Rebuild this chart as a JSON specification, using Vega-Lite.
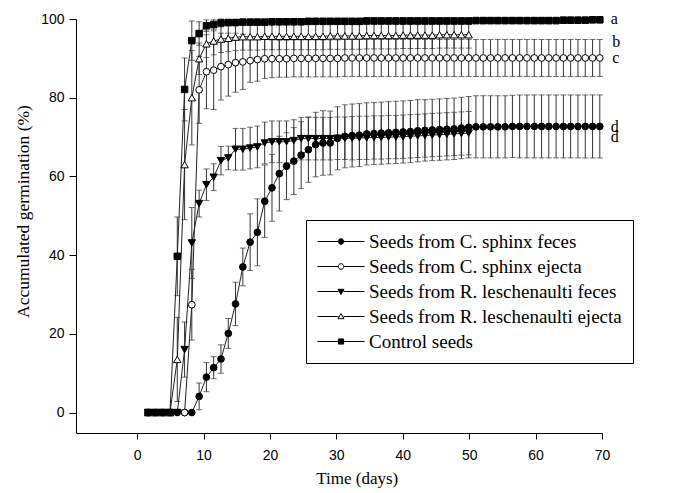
{
"$schema": "https://vega.github.io/schema/vega-lite/v6.json",
"width": 526, "height": 414,
"autosize": {"type": "none"},
"padding": {"left": 76, "top": 19, "right": 74, "bottom": 60},
"background": "white",
"config": {"view": {"stroke": null}, "font": "Liberation Sans"},
"datasets": {
"labs": [
{"lab":"a","t":71.3,"v":100.1},{"lab":"b","t":71.55,"v":94.2},{"lab":"c","t":71.55,"v":90.0},{"lab":"d","t":71.3,"v":72.6},{"lab":"d","t":71.3,"v":70.1}
],
"pts": [
{"s":"E","t":1.66,"v":0,"e":0},{"s":"E","t":2.76,"v":0,"e":0},{"s":"E","t":3.85,"v":0,"e":0},{"s":"E","t":4.95,"v":0,"e":0},
{"s":"E","t":6.05,"v":39.7,"e":10},{"s":"E","t":7.15,"v":82.1,"e":8},{"s":"E","t":8.24,"v":94.5,"e":5},{"s":"E","t":9.34,"v":96.3,"e":3},
{"s":"E","t":10.44,"v":98.3,"e":1.5},{"s":"E","t":11.53,"v":98.6,"e":1.2},{"s":"E","t":12.63,"v":99.0,"e":1},{"s":"E","t":13.73,"v":99.1,"e":0.8},
{"s":"E","t":14.82,"v":99.1,"e":0.8},{"s":"E","t":15.92,"v":99.2,"e":0.8},{"s":"E","t":17.02,"v":99.2,"e":0.8},{"s":"E","t":18.11,"v":99.2,"e":0.8},
{"s":"E","t":19.21,"v":99.2,"e":0.8},{"s":"E","t":20.31,"v":99.3,"e":0.8},{"s":"E","t":21.41,"v":99.3,"e":0.8},{"s":"E","t":22.50,"v":99.3,"e":0.8},
{"s":"E","t":23.60,"v":99.3,"e":0.8},{"s":"E","t":24.70,"v":99.3,"e":0.8},{"s":"E","t":25.79,"v":99.4,"e":0.8},{"s":"E","t":26.89,"v":99.4,"e":0.8},
{"s":"E","t":27.99,"v":99.4,"e":0.8},{"s":"E","t":29.08,"v":99.4,"e":0.8},{"s":"E","t":30.18,"v":99.4,"e":0.8},{"s":"E","t":31.28,"v":99.4,"e":0.8},
{"s":"E","t":32.38,"v":99.4,"e":0.8},{"s":"E","t":33.47,"v":99.4,"e":0.8},{"s":"E","t":34.57,"v":99.5,"e":0.8},{"s":"E","t":35.67,"v":99.5,"e":0.8},
{"s":"E","t":36.76,"v":99.5,"e":0.8},{"s":"E","t":37.86,"v":99.5,"e":0.8},{"s":"E","t":38.96,"v":99.5,"e":0.8},{"s":"E","t":40.05,"v":99.5,"e":0.8},
{"s":"E","t":41.15,"v":99.5,"e":0.8},{"s":"E","t":42.25,"v":99.5,"e":0.8},{"s":"E","t":43.34,"v":99.5,"e":0.8},{"s":"E","t":44.44,"v":99.5,"e":0.8},
{"s":"E","t":45.54,"v":99.5,"e":0.8},{"s":"E","t":46.64,"v":99.5,"e":0.8},{"s":"E","t":47.73,"v":99.5,"e":0.8},{"s":"E","t":48.83,"v":99.5,"e":0.8},
{"s":"E","t":49.93,"v":99.5,"e":0.8},{"s":"E","t":51.02,"v":99.6,"e":0.8},{"s":"E","t":52.12,"v":99.6,"e":0.8},{"s":"E","t":53.22,"v":99.6,"e":0.8},
{"s":"E","t":54.31,"v":99.6,"e":0.8},{"s":"E","t":55.41,"v":99.6,"e":0.8},{"s":"E","t":56.51,"v":99.6,"e":0.8},{"s":"E","t":57.60,"v":99.6,"e":0.8},
{"s":"E","t":58.70,"v":99.6,"e":0.8},{"s":"E","t":59.80,"v":99.6,"e":0.8},{"s":"E","t":60.90,"v":99.6,"e":0.8},{"s":"E","t":61.99,"v":99.6,"e":0.8},
{"s":"E","t":63.09,"v":99.6,"e":0.8},{"s":"E","t":64.19,"v":99.7,"e":0.8},{"s":"E","t":65.28,"v":99.7,"e":0.8},{"s":"E","t":66.38,"v":99.7,"e":0.8},
{"s":"E","t":67.48,"v":99.7,"e":0.8},{"s":"E","t":68.58,"v":99.8,"e":0.8},{"s":"E","t":69.67,"v":99.8,"e":0.8},

{"s":"D","t":1.66,"v":0,"e":0},{"s":"D","t":2.76,"v":0,"e":0},{"s":"D","t":3.85,"v":0,"e":0},{"s":"D","t":4.95,"v":0,"e":0},
{"s":"D","t":6.05,"v":13.5,"e":10.7},{"s":"D","t":7.15,"v":63.0,"e":14},{"s":"D","t":8.24,"v":80.0,"e":12},{"s":"D","t":9.34,"v":89.9,"e":4},
{"s":"D","t":10.44,"v":93.7,"e":3.5},{"s":"D","t":11.53,"v":94.4,"e":3.5},{"s":"D","t":12.63,"v":94.9,"e":3.4},{"s":"D","t":13.73,"v":95.1,"e":3.4},
{"s":"D","t":14.82,"v":95.4,"e":3.4},{"s":"D","t":15.92,"v":95.5,"e":3.4},{"s":"D","t":17.02,"v":95.5,"e":3.4},{"s":"D","t":18.11,"v":95.5,"e":3.4},
{"s":"D","t":19.21,"v":95.6,"e":3.4},{"s":"D","t":20.31,"v":95.6,"e":3.4},{"s":"D","t":21.41,"v":95.6,"e":3.4},{"s":"D","t":22.50,"v":95.6,"e":3.4},
{"s":"D","t":23.60,"v":95.6,"e":3.4},{"s":"D","t":24.70,"v":95.6,"e":3.4},{"s":"D","t":25.79,"v":95.6,"e":3.4},{"s":"D","t":26.89,"v":95.6,"e":3.4},
{"s":"D","t":27.99,"v":95.6,"e":3.4},{"s":"D","t":29.08,"v":95.7,"e":3.4},{"s":"D","t":30.18,"v":95.7,"e":3.4},{"s":"D","t":31.28,"v":95.7,"e":3.4},
{"s":"D","t":32.38,"v":95.7,"e":3.4},{"s":"D","t":33.47,"v":95.7,"e":3.4},{"s":"D","t":34.57,"v":95.8,"e":3.4},{"s":"D","t":35.67,"v":95.8,"e":3.4},
{"s":"D","t":36.76,"v":95.8,"e":3.4},{"s":"D","t":37.86,"v":95.8,"e":3.4},{"s":"D","t":38.96,"v":95.8,"e":3.4},{"s":"D","t":40.05,"v":95.9,"e":3.4},
{"s":"D","t":41.15,"v":95.9,"e":3.4},{"s":"D","t":42.25,"v":95.9,"e":3.4},{"s":"D","t":43.34,"v":95.9,"e":3.4},{"s":"D","t":44.44,"v":95.9,"e":3.4},
{"s":"D","t":45.54,"v":96.0,"e":3.4},{"s":"D","t":46.64,"v":96.0,"e":3.4},{"s":"D","t":47.73,"v":96.0,"e":3.4},{"s":"D","t":48.83,"v":96.0,"e":3.4},
{"s":"D","t":49.93,"v":96.0,"e":3.4},

{"s":"C","t":1.66,"v":0,"e":0},{"s":"C","t":2.76,"v":0,"e":0},{"s":"C","t":3.85,"v":0,"e":0},{"s":"C","t":4.95,"v":0,"e":0},
{"s":"C","t":6.05,"v":0,"e":0},{"s":"C","t":7.15,"v":16.0,"e":7},{"s":"C","t":8.24,"v":43.1,"e":9},{"s":"C","t":9.34,"v":53.1,"e":3.4},
{"s":"C","t":10.44,"v":57.9,"e":4},{"s":"C","t":11.53,"v":59.8,"e":3.4},{"s":"C","t":12.63,"v":64.0,"e":3.6},{"s":"C","t":13.73,"v":64.7,"e":3},
{"s":"C","t":14.82,"v":66.9,"e":5.3},{"s":"C","t":15.92,"v":66.9,"e":5.3},{"s":"C","t":17.02,"v":67.2,"e":5.3},{"s":"C","t":18.11,"v":67.5,"e":5.3},
{"s":"C","t":19.21,"v":68.5,"e":5.3},{"s":"C","t":20.31,"v":68.8,"e":5.3},{"s":"C","t":21.41,"v":68.8,"e":5.3},{"s":"C","t":22.50,"v":68.8,"e":5.3},
{"s":"C","t":23.60,"v":69.1,"e":5.3},{"s":"C","t":24.70,"v":69.6,"e":5.4},{"s":"C","t":25.79,"v":69.6,"e":5.4},{"s":"C","t":26.89,"v":69.6,"e":5.4},
{"s":"C","t":27.99,"v":69.6,"e":5.4},{"s":"C","t":29.08,"v":69.6,"e":5.4},{"s":"C","t":30.18,"v":69.7,"e":5.4},{"s":"C","t":31.28,"v":69.7,"e":5.4},
{"s":"C","t":32.38,"v":69.7,"e":5.5},{"s":"C","t":33.47,"v":69.8,"e":5.5},{"s":"C","t":34.57,"v":69.8,"e":5.5},{"s":"C","t":35.67,"v":69.9,"e":5.5},
{"s":"C","t":36.76,"v":69.9,"e":5.5},{"s":"C","t":37.86,"v":70.0,"e":5.5},{"s":"C","t":38.96,"v":70.0,"e":5.5},{"s":"C","t":40.05,"v":70.1,"e":5.5},
{"s":"C","t":41.15,"v":70.2,"e":5.5},{"s":"C","t":42.25,"v":70.3,"e":5.5},{"s":"C","t":43.34,"v":70.4,"e":5.5},{"s":"C","t":44.44,"v":70.5,"e":5.5},
{"s":"C","t":45.54,"v":70.6,"e":5.5},{"s":"C","t":46.64,"v":70.7,"e":5.5},{"s":"C","t":47.73,"v":70.8,"e":5.5},{"s":"C","t":48.83,"v":70.9,"e":5.5},
{"s":"C","t":49.93,"v":71.0,"e":5.5},

{"s":"A","t":1.66,"v":0,"e":0},{"s":"A","t":2.76,"v":0,"e":0},{"s":"A","t":3.85,"v":0,"e":0},{"s":"A","t":4.95,"v":0,"e":0},
{"s":"A","t":6.05,"v":0,"e":0},{"s":"A","t":7.15,"v":0,"e":0},{"s":"A","t":8.24,"v":0,"e":0},{"s":"A","t":9.34,"v":4.1,"e":3.4},
{"s":"A","t":10.44,"v":9.0,"e":3.7},{"s":"A","t":11.53,"v":11.4,"e":2.8},{"s":"A","t":12.63,"v":13.6,"e":3.6},{"s":"A","t":13.73,"v":20.1,"e":3.8},
{"s":"A","t":14.82,"v":27.6,"e":5.5},{"s":"A","t":15.92,"v":37.0,"e":4.8},{"s":"A","t":17.02,"v":43.3,"e":7.2},{"s":"A","t":18.11,"v":45.8,"e":8.5},
{"s":"A","t":19.21,"v":53.7,"e":9.2},{"s":"A","t":20.31,"v":57.1,"e":8.5},{"s":"A","t":21.41,"v":60.7,"e":9.5},{"s":"A","t":22.50,"v":62.6,"e":8.5},
{"s":"A","t":23.60,"v":63.9,"e":8.5},{"s":"A","t":24.70,"v":65.4,"e":8.5},{"s":"A","t":25.79,"v":66.8,"e":8.3},{"s":"A","t":26.89,"v":68.1,"e":8.2},
{"s":"A","t":27.99,"v":68.5,"e":8.2},{"s":"A","t":29.08,"v":68.5,"e":8.1},{"s":"A","t":30.18,"v":69.7,"e":8.0},{"s":"A","t":31.28,"v":70.2,"e":8.0},
{"s":"A","t":32.38,"v":70.4,"e":8.0},{"s":"A","t":33.47,"v":70.5,"e":8.0},{"s":"A","t":34.57,"v":70.8,"e":7.9},{"s":"A","t":35.67,"v":70.9,"e":7.9},
{"s":"A","t":36.76,"v":71.0,"e":7.9},{"s":"A","t":37.86,"v":71.1,"e":7.9},{"s":"A","t":38.96,"v":71.2,"e":7.9},{"s":"A","t":40.05,"v":71.3,"e":7.9},
{"s":"A","t":41.15,"v":71.4,"e":7.9},{"s":"A","t":42.25,"v":71.6,"e":7.9},{"s":"A","t":43.34,"v":71.7,"e":7.8},{"s":"A","t":44.44,"v":71.8,"e":7.8},
{"s":"A","t":45.54,"v":71.9,"e":7.8},{"s":"A","t":46.64,"v":72.0,"e":7.8},{"s":"A","t":47.73,"v":72.1,"e":7.8},{"s":"A","t":48.83,"v":72.3,"e":7.8},
{"s":"A","t":49.93,"v":72.5,"e":7.8},{"s":"A","t":51.02,"v":72.6,"e":7.9},{"s":"A","t":52.12,"v":72.6,"e":7.9},{"s":"A","t":53.22,"v":72.6,"e":7.9},
{"s":"A","t":54.31,"v":72.6,"e":7.9},{"s":"A","t":55.41,"v":72.6,"e":7.9},{"s":"A","t":56.51,"v":72.7,"e":7.9},{"s":"A","t":57.60,"v":72.7,"e":8.0},
{"s":"A","t":58.70,"v":72.7,"e":8.0},{"s":"A","t":59.80,"v":72.7,"e":8.0},{"s":"A","t":60.90,"v":72.7,"e":8.0},{"s":"A","t":61.99,"v":72.7,"e":8.0},
{"s":"A","t":63.09,"v":72.7,"e":8.0},{"s":"A","t":64.19,"v":72.7,"e":8.0},{"s":"A","t":65.28,"v":72.7,"e":8.0},{"s":"A","t":66.38,"v":72.7,"e":8.0},
{"s":"A","t":67.48,"v":72.7,"e":8.0},{"s":"A","t":68.58,"v":72.7,"e":8.0},{"s":"A","t":69.67,"v":72.7,"e":8.0},

{"s":"B","t":7.15,"v":0,"e":0},{"s":"B","t":8.24,"v":27.4,"e":9},{"s":"B","t":9.34,"v":82.0,"e":8.5},
{"s":"B","t":10.44,"v":86.6,"e":9.4},{"s":"B","t":11.53,"v":87.0,"e":10},{"s":"B","t":12.63,"v":87.9,"e":8.5},{"s":"B","t":13.73,"v":88.4,"e":8},
{"s":"B","t":14.82,"v":88.9,"e":7.5},{"s":"B","t":15.92,"v":89.1,"e":7},{"s":"B","t":17.02,"v":89.4,"e":5.5},{"s":"B","t":18.11,"v":89.7,"e":5.5},
{"s":"B","t":19.21,"v":89.9,"e":5},{"s":"B","t":20.31,"v":89.9,"e":4.8},{"s":"B","t":21.41,"v":89.9,"e":4.7},{"s":"B","t":22.50,"v":89.9,"e":4.7},
{"s":"B","t":23.60,"v":90.0,"e":4.7},{"s":"B","t":24.70,"v":90.0,"e":4.7},{"s":"B","t":25.79,"v":90.0,"e":4.7},{"s":"B","t":26.89,"v":90.0,"e":4.7},
{"s":"B","t":27.99,"v":90.0,"e":4.7},{"s":"B","t":29.08,"v":90.0,"e":4.7},{"s":"B","t":30.18,"v":90.0,"e":4.7},{"s":"B","t":31.28,"v":90.1,"e":4.7},
{"s":"B","t":32.38,"v":90.1,"e":4.7},{"s":"B","t":33.47,"v":90.1,"e":4.7},{"s":"B","t":34.57,"v":90.1,"e":4.7},{"s":"B","t":35.67,"v":90.1,"e":4.7},
{"s":"B","t":36.76,"v":90.1,"e":4.7},{"s":"B","t":37.86,"v":90.1,"e":4.7},{"s":"B","t":38.96,"v":90.1,"e":4.7},{"s":"B","t":40.05,"v":90.1,"e":4.7},
{"s":"B","t":41.15,"v":90.1,"e":4.7},{"s":"B","t":42.25,"v":90.1,"e":4.7},{"s":"B","t":43.34,"v":90.1,"e":4.7},{"s":"B","t":44.44,"v":90.1,"e":4.7},
{"s":"B","t":45.54,"v":90.1,"e":4.7},{"s":"B","t":46.64,"v":90.1,"e":4.7},{"s":"B","t":47.73,"v":90.1,"e":4.7},{"s":"B","t":48.83,"v":90.1,"e":4.7},
{"s":"B","t":49.93,"v":90.1,"e":4.7},{"s":"B","t":51.02,"v":90.1,"e":4.7},{"s":"B","t":52.12,"v":90.1,"e":4.7},{"s":"B","t":53.22,"v":90.1,"e":4.7},
{"s":"B","t":54.31,"v":90.1,"e":4.7},{"s":"B","t":55.41,"v":90.1,"e":4.7},{"s":"B","t":56.51,"v":90.1,"e":4.7},{"s":"B","t":57.60,"v":90.1,"e":4.7},
{"s":"B","t":58.70,"v":90.1,"e":4.7},{"s":"B","t":59.80,"v":90.1,"e":4.7},{"s":"B","t":60.90,"v":90.1,"e":4.7},{"s":"B","t":61.99,"v":90.1,"e":4.7},
{"s":"B","t":63.09,"v":90.1,"e":4.7},{"s":"B","t":64.19,"v":90.1,"e":4.7},{"s":"B","t":65.28,"v":90.1,"e":4.7},{"s":"B","t":66.38,"v":90.1,"e":4.7},
{"s":"B","t":67.48,"v":90.1,"e":4.7},{"s":"B","t":68.58,"v":90.1,"e":4.7},{"s":"B","t":69.67,"v":90.1,"e":4.7}
]
},
"encoding": {
  "x": {"field": "t", "type": "quantitative",
    "scale": {"domain": [-9.2, 70], "nice": false, "zero": false},
    "axis": {"values": [0,10,20,30,40,50,60,70], "title": "Time (days)", "grid": false, "labelFlush": false,
      "tickSize": 6, "labelPadding": 9, "domainColor": "black", "tickColor": "black", "labelColor": "black",
      "labelFont": "Liberation Sans", "labelFontSize": 14,
      "titleFont": "Liberation Serif", "titleFontSize": 17, "titleFontWeight": "normal", "titleColor": "black",
      "titleX": 280.7, "titleY": 45, "titleBaseline": "middle", "titleAlign": "center"}},
  "y": {"field": "v", "type": "quantitative",
    "scale": {"domain": [-5.2, 100], "nice": false, "zero": false},
    "axis": {"values": [0,20,40,60,80,100], "title": "Accumulated germination (%)", "grid": false,
      "tickSize": 7, "labelPadding": 5, "domainColor": "black", "tickColor": "black", "labelColor": "black",
      "labelFont": "Liberation Sans", "labelFontSize": 14,
      "titleFont": "Liberation Serif", "titleFontSize": 17.5, "titleFontWeight": "normal", "titleColor": "black",
      "titleX": -53, "titleY": 192, "titleAngle": -90, "titleBaseline": "middle", "titleAlign": "center"}}
},
"layer": [
  {"data": {"name": "pts"}, "transform": [{"filter": "datum.e > 0"}],
   "mark": {"type": "errorbar", "color": "#333", "ticks": {"size": 6, "color": "#333"}, "rule": {"strokeWidth": 1}},
   "encoding": {"yError": {"field": "e"}, "detail": {"field": "s"}}},
  {"data": {"name": "pts"},
   "mark": {"type": "line", "color": "#222", "strokeWidth": 1},
   "encoding": {"detail": {"field": "s"}}},
  {"data": {"name": "pts"}, "transform": [{"filter": "datum.s === 'E'"}],
   "mark": {"type": "point", "shape": "square", "filled": true, "fill": "black", "stroke": "black", "strokeWidth": 1, "size": 42, "opacity": 1}},
  {"data": {"name": "pts"}, "transform": [{"filter": "datum.s === 'D'"}],
   "mark": {"type": "point", "shape": "triangle-up", "filled": true, "fill": "white", "stroke": "black", "strokeWidth": 1, "size": 55, "opacity": 1}},
  {"data": {"name": "pts"}, "transform": [{"filter": "datum.s === 'C'"}],
   "mark": {"type": "point", "shape": "triangle-down", "filled": true, "fill": "black", "stroke": "black", "strokeWidth": 1, "size": 55, "opacity": 1}},
  {"data": {"name": "pts"}, "transform": [{"filter": "datum.s === 'A'"}],
   "mark": {"type": "point", "shape": "circle", "filled": true, "fill": "black", "stroke": "black", "strokeWidth": 1, "size": 45, "opacity": 1}},
  {"data": {"name": "pts"}, "transform": [{"filter": "datum.s === 'B'"}],
   "mark": {"type": "point", "shape": "circle", "filled": true, "fill": "white", "stroke": "black", "strokeWidth": 1, "size": 45, "opacity": 1}},
  {"data": {"name": "pts"}, "transform": [{"filter": "datum.t > 1000"}],
   "mark": {"type": "point", "filled": true, "strokeWidth": 1, "opacity": 1},
   "encoding": {
     "fill": {"field": "s", "type": "nominal",
       "scale": {"domain": ["A","B","C","D","E"], "range": ["black","white","black","white","black"]},
       "legend": {"orient": "none", "legendX": 230, "legendY": 201, "title": null,
         "padding": 11, "strokeColor": "black", "fillColor": "white", "cornerRadius": 0,
         "symbolSize": 400, "symbolStrokeWidth": 1,
         "labelFont": "Liberation Serif", "labelFontSize": 19, "labelColor": "black", "labelOffset": 31,
         "labelLimit": 0, "rowPadding": 4,
         "labelExpr": "{'A':'Seeds from C. sphinx feces','B':'Seeds from C. sphinx ejecta','C':'Seeds from R. leschenaulti feces','D':'Seeds from R. leschenaulti ejecta','E':'Control seeds'}[datum.value]"}},
     "stroke": {"field": "s", "type": "nominal",
       "scale": {"domain": ["A","B","C","D","E"], "range": ["black","black","black","black","black"]},
       "legend": {"orient": "none", "legendX": 230, "legendY": 201, "title": null,
         "padding": 11, "strokeColor": "black", "fillColor": "white", "cornerRadius": 0,
         "symbolSize": 400, "symbolStrokeWidth": 1,
         "labelFont": "Liberation Serif", "labelFontSize": 19, "labelColor": "black", "labelOffset": 31,
         "labelLimit": 0, "rowPadding": 4,
         "labelExpr": "{'A':'Seeds from C. sphinx feces','B':'Seeds from C. sphinx ejecta','C':'Seeds from R. leschenaulti feces','D':'Seeds from R. leschenaulti ejecta','E':'Control seeds'}[datum.value]"}},
     "shape": {"field": "s", "type": "nominal",
       "scale": {"domain": ["A","B","C","D","E"], "range": [
         "M-1,0H1.07M1.63,0H3.7M1.07,0A0.28,0.28 0 1 0 1.63,0A0.28,0.28 0 1 0 1.07,0Z",
         "M-1,0H1.07M1.63,0H3.7M1.07,0A0.28,0.28 0 1 0 1.63,0A0.28,0.28 0 1 0 1.07,0Z",
         "M-1,0H1.1M1.6,0H3.7M1.35,0.3L1.65,-0.22L1.05,-0.22Z",
         "M-1,0H1.1M1.6,0H3.7M1.35,-0.3L1.65,0.22L1.05,0.22Z",
         "M-1,0H1.09M1.61,0H3.7M1.09,-0.26H1.61V0.26H1.09Z"]},
       "legend": {"orient": "none", "legendX": 230, "legendY": 201, "title": null,
         "padding": 11, "strokeColor": "black", "fillColor": "white", "cornerRadius": 0,
         "symbolSize": 400, "symbolStrokeWidth": 1,
         "labelFont": "Liberation Serif", "labelFontSize": 19, "labelColor": "black", "labelOffset": 31,
         "labelLimit": 0, "rowPadding": 4,
         "labelExpr": "{'A':'Seeds from C. sphinx feces','B':'Seeds from C. sphinx ejecta','C':'Seeds from R. leschenaulti feces','D':'Seeds from R. leschenaulti ejecta','E':'Control seeds'}[datum.value]"}}}},
  {"data": {"name": "labs"},
   "mark": {"type": "text", "font": "Liberation Serif", "fontSize": 16, "align": "left", "baseline": "middle", "color": "black"},
   "encoding": {"text": {"field": "lab"}}}
]
}
